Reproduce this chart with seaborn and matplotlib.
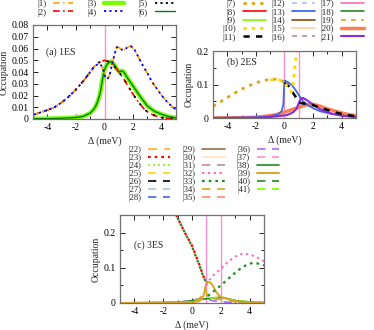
import numpy as np
import pandas as pd
import matplotlib
matplotlib.use("Agg")
import matplotlib.pyplot as plt
from matplotlib.lines import Line2D
import seaborn as sns

sns.set_theme(style="ticks")
plt.rcParams['font.family'] = ['Liberation Serif', 'DejaVu Serif']
plt.rcParams['mathtext.fontset'] = 'stix'

# ---------------- data: panel (a) 1ES ----------------
xa_14 = [-5, -4.5, -4, -3.5, -3, -2.5, -2, -1.5, -1, -0.7, -0.4, -0.25, -0.1, 0.05, 0.2, 0.35, 0.5, 0.7,
         0.85, 1.0, 1.2, 1.4, 1.6, 1.85, 2.1, 2.4, 2.7, 3.0, 3.3, 3.65, 4.0, 4.35, 4.6, 4.9, 5.0]
ya_14 = [0.0035, 0.0055, 0.0075, 0.010, 0.014, 0.019, 0.025, 0.032, 0.040, 0.045, 0.047, 0.046, 0.042, 0.036,
         0.034, 0.037, 0.045, 0.055, 0.061, 0.061, 0.059, 0.059, 0.061, 0.062, 0.059, 0.052, 0.045, 0.039,
         0.032, 0.026, 0.020, 0.015, 0.012, 0.009, 0.008]
xa_25 = [-5, -4.5, -4, -3.5, -3, -2.5, -2, -1.5, -1, -0.7, -0.4, -0.2, 0.0, 0.25, 0.5, 0.75, 1.0, 1.3, 1.6,
         2.0, 2.4, 2.8, 3.2, 3.6, 4.0, 4.5, 5.0]
ya_25 = [0.0035, 0.0055, 0.0075, 0.010, 0.014, 0.019, 0.025, 0.032, 0.040, 0.045, 0.048, 0.049, 0.050, 0.049,
         0.047, 0.044, 0.040, 0.035, 0.029, 0.021, 0.014, 0.008, 0.0045, 0.0025, 0.0012, 0.0005, 0.0002]
xa_36 = [-5, -4, -3, -2, -1.5, -1, -0.7, -0.5, -0.3, -0.15, 0.0, 0.2, 0.45, 0.7, 0.9, 1.05, 1.2, 1.35, 1.6,
         2.0, 2.5, 3.0, 3.5, 4.0, 4.5, 5.0]
ya_36 = [0.0002, 0.0003, 0.0006, 0.0013, 0.0022, 0.005, 0.009, 0.014, 0.022, 0.033, 0.042, 0.047, 0.049, 0.046,
         0.042, 0.040, 0.041, 0.040, 0.035, 0.028, 0.019, 0.011, 0.0065, 0.004, 0.002, 0.001]

# ---------------- data: panel (b) 2ES ----------------
xb_7 = [-5, -4.5, -4, -3.5, -3, -2.5, -2, -1.5, -1.1, -0.7, -0.4, -0.15, 0.0, 0.2]
yb_7 = [0.035, 0.048, 0.061, 0.074, 0.086, 0.096, 0.105, 0.111, 0.115, 0.116, 0.114, 0.110, 0.106, 0.101]
xb_10 = [-1.0, -0.6, -0.3, 0.0, 0.2, 0.35, 0.48, 0.58, 0.66, 0.74, 0.82, 0.88]
yb_10 = [0.113, 0.116, 0.113, 0.106, 0.094, 0.083, 0.078, 0.095, 0.125, 0.155, 0.185, 0.21]
xb_11 = [0.0, 0.3, 0.6, 0.9, 1.1, 1.5, 2.0, 2.5, 3.0, 3.5, 4.0, 4.5, 5.0]
yb_11 = [0.105, 0.095, 0.075, 0.055, 0.045, 0.042, 0.038, 0.031, 0.024, 0.017, 0.012, 0.008, 0.005]
xb_13 = [-5, -3, -2, -1, -0.5, -0.2, -0.08, -0.04, -0.01, 0.2, 0.5, 0.8, 1.0, 1.3, 1.6, 2.0, 2.5, 3.2, 4.0, 5.0]
yb_13 = [0.0, 0.001, 0.002, 0.005, 0.010, 0.020, 0.040, 0.080, 0.112, 0.108, 0.099, 0.082, 0.068, 0.050, 0.039,
         0.029, 0.020, 0.013, 0.007, 0.003]
xb_20 = [-5, -3, -2, -1, -0.5, 0.0, 0.5, 1.0, 1.5, 2.0, 2.5, 3.0, 3.5, 4.0, 4.5, 5.0]
yb_20 = [0.0, 0.001, 0.002, 0.007, 0.011, 0.017, 0.025, 0.032, 0.039, 0.041, 0.035, 0.027, 0.021, 0.015, 0.010, 0.007]
xb_21 = [-5, -2, -1, -0.3, 0.2, 0.6, 0.85, 1.0, 1.15, 1.3, 1.6, 2.0, 2.5, 3.0, 3.5, 4.0, 4.5, 5.0]
yb_21 = [0.0, 0.001, 0.003, 0.006, 0.009, 0.017, 0.028, 0.045, 0.058, 0.060, 0.052, 0.040, 0.026, 0.017, 0.011,
         0.007, 0.005, 0.003]

# ---------------- data: panel (c) 3ES ----------------
xc_23 = [-1.5, -1.1, -0.5, 0.0, 0.5, 0.8, 1.0]
yc_23 = [0.285, 0.25, 0.2, 0.163, 0.11, 0.075, 0.06]
xc_33a = [-1.5, -1.1, -0.5, 0.0, 0.5, 0.8, 1.0]
yc_33a = [0.285, 0.25, 0.2, 0.161, 0.108, 0.073, 0.058]
xc_33b = [1.1, 1.5, 2.0, 2.5, 3.0, 3.5, 4.0, 4.3, 4.6, 5.0]
yc_33b = [0.02, 0.033, 0.05, 0.068, 0.086, 0.102, 0.112, 0.114, 0.112, 0.107]
xc_32 = [1.0, 1.2, 1.5, 2.0, 2.5, 3.0, 3.5, 4.0, 4.5, 5.0]
yc_32 = [0.05, 0.065, 0.08, 0.097, 0.117, 0.132, 0.140, 0.138, 0.130, 0.118]
xc_39 = [-5, 0.0, 0.5, 0.8, 0.95, 1.05, 1.3, 1.5, 1.7, 1.9, 2.2, 2.6, 3.0, 3.5, 4.0, 5.0]
yc_39 = [0.0, 0.002, 0.005, 0.02, 0.05, 0.06, 0.058, 0.045, 0.03, 0.02, 0.015, 0.01, 0.006, 0.003, 0.002, 0.001]
xc_34 = [-5, 0.0, 0.5, 0.8, 0.95, 1.05, 1.5, 2.0, 3.0, 5.0]
yc_34 = [0.0, 0.003, 0.012, 0.028, 0.038, 0.02, 0.012, 0.010, 0.004, 0.001]
xc_36 = [-5, -1, 0.0, 0.5, 0.9, 1.1, 1.5, 2.5, 5.0]
yc_36 = [0.0, 0.001, 0.008, 0.012, 0.016, 0.010, 0.006, 0.002, 0.0]
xc_41 = [-5, -1, 0.0, 1.0, 1.5, 2.0, 2.5, 3.0, 4.0, 5.0]
yc_41 = [0.0, 0.001, 0.006, 0.012, 0.015, 0.018, 0.012, 0.007, 0.003, 0.001]
xc_38 = [-5, -1, 0.0, 1.0, 2.0, 2.5, 3.0, 4.0, 5.0]
yc_38 = [0.0, 0.002, 0.007, 0.012, 0.016, 0.012, 0.007, 0.003, 0.001]

vlines_a = [0.0]
vlines_b = [0.0, 1.0]
vlines_c = [1.0, 2.0]

# ---------------- styles ----------------
DOT = (0, (1.2, 1.8))
DOT_SHIFT = (1.5, (1.2, 1.8))
DASH = (0, (5, 4))
DDOT = (0, (4, 2, 1, 2))
styles = {
    1: ('#ffa500', DDOT, 1.2), 2: ('#ff0000', DDOT, 1.2), 3: ('#7cfc00', '-', 3.2), 4: ('#0000ff', DOT, 1.3),
    5: ('#000000', DOT, 1.3), 6: ('#008000', '-', 1.0),
    7: ('#daa520', DOT, 2.0), 8: ('#ff0000', '-', 1.2), 9: ('#7cfc00', '-', 1.2), 10: ('#ffd700', DOT, 2.0),
    11: ('#000000', (0, (2.5, 2.5)), 1.8), 12: ('#b0c4de', (0, (3, 3)), 1.2), 13: ('#4169e1', '-', 1.3),
    14: ('#8b4513', '-', 1.2), 15: ('#ffdab9', '-', 1.5), 16: ('#bc8f8f', (0, (3, 3)), 1.2),
    17: ('#ff69b4', '-', 1.2), 18: ('#228b22', '-', 1.2), 19: ('#daa520', (0, (3, 3)), 1.2),
    20: ('#ff7f50', '-', 2.5), 21: ('#8a2be2', '-', 1.5),
    22: ('#ffb347', DASH, 1.3), 23: ('#ff0000', DOT, 1.6), 24: ('#7cfc00', DOT, 1.2),
    25: ('#ffd700', DASH, 1.2), 26: ('#000000', DASH, 1.2), 27: ('#b0c4de', DASH, 1.2),
    28: ('#4169e1', DASH, 1.2), 29: ('#a0785a', '-', 1.3), 30: ('#ffe4c4', '-', 1.3),
    31: ('#bc8f8f', DASH, 1.2), 32: ('#ff69b4', DOT, 1.4), 33: ('#228b22', DOT, 1.6),
    34: ('#daa520', DASH, 1.2), 35: ('#ff8c69', DASH, 1.2), 36: ('#a66cff', DASH, 1.2),
    37: ('#ff8fc8', DASH, 1.2), 38: ('#228b22', '-', 1.2), 39: ('#daa520', '-', 1.4),
    40: ('#228b22', DASH, 1.2), 41: ('#7cfc00', DASH, 1.2),
}

W, H = 374, 330
fig = plt.figure(figsize=(W / 100, H / 100), dpi=100)

def ax_rect(l, t, r, b):
    return [l / W, 1 - b / H, (r - l) / W, (b - t) / H]

axa = fig.add_axes(ax_rect(33, 25, 176, 119))
axb = fig.add_axes(ax_rect(213, 51, 356, 118))
axc = fig.add_axes(ax_rect(120, 215, 264, 303))

def draw(ax, x, y, sid, z=2, ls=None):
    c, ls0, lw = styles[sid]
    sns.lineplot(x=x, y=y, ax=ax, color=c, linestyle=ls if ls is not None else ls0, linewidth=lw,
                 sort=False, estimator=None, zorder=z)

# panel a
for v in vlines_a:
    axa.axvline(v, color='#ff8fc8', lw=1.0, zorder=1)
draw(axa, xa_36, ya_36, 3)
draw(axa, xa_36, ya_36, 6)
draw(axa, xa_25, ya_25, 2)
draw(axa, xa_25, ya_25, 5, ls=(2.5, (1.2, 3.8)))
draw(axa, xa_14, ya_14, 1)
draw(axa, xa_14, ya_14, 4, ls=(2.5, (1.2, 1.8)))

# panel b
for v in vlines_b:
    axb.axvline(v, color='#ff8fc8', lw=1.0, zorder=1)
draw(axb, xb_20, yb_20, 20)
draw(axb, xb_13, yb_13, 13)
draw(axb, xb_21, yb_21, 21)
draw(axb, xb_11, yb_11, 11)
draw(axb, xb_7, yb_7, 7)
draw(axb, xb_10, yb_10, 10)

# panel c
for v in vlines_c:
    axc.axvline(v, color='#ff8fc8', lw=1.0, zorder=1)
draw(axc, xc_38, yc_38, 38)
draw(axc, xc_41, yc_41, 41)
draw(axc, xc_36, yc_36, 36)
draw(axc, xc_34, yc_34, 34)
draw(axc, xc_39, yc_39, 39)
draw(axc, xc_32, yc_32, 32)
draw(axc, xc_33b, yc_33b, 33)
draw(axc, xc_23, yc_23, 23)
draw(axc, xc_33a, yc_33a, 33, ls=DOT_SHIFT)

def style_ax(ax, ylim, ymajor, yminor, ylabfmt):
    ax.set_xlim(-5, 5)
    ax.set_ylim(*ylim)
    ax.set_xticks([-4, -2, 0, 2, 4])
    ax.set_xticks(np.arange(-5, 6, 1), minor=True)
    ax.set_yticks(ymajor)
    ax.set_yticklabels([ylabfmt(v) for v in ymajor])
    if yminor is not None:
        ax.set_yticks(yminor, minor=True)
    ax.set_xticklabels(['-4', '-2', '0', '2', '4'])
    ax.tick_params(which='both', direction='in', top=True, right=True, labelsize=7, colors='#000000',
                   pad=3, width=0.6)
    ax.tick_params(which='major', length=3.5)
    ax.tick_params(which='minor', length=2)
    for s in ax.spines.values():
        s.set_color('#707070')
        s.set_linewidth(0.9)
    ax.set_xlabel('Δ (meV)', fontsize=7, labelpad=3)
    ax.set_ylabel('Occupation', fontsize=7, labelpad=2)
    if ax.get_legend():
        ax.get_legend().remove()

style_ax(axa, (0, 0.08), np.arange(0, 0.081, 0.01), None, lambda v: '0' if v == 0 else f'{v:.2f}')
style_ax(axb, (0, 0.2), [0, 0.1, 0.2], [0.05, 0.15], lambda v: '0' if v == 0 else f'{v:.1f}')
style_ax(axc, (0, 0.25), [0, 0.1, 0.2], [0.05, 0.15, 0.25], lambda v: '0' if v == 0 else f'{v:.1f}')

axa.text(-4.1, 0.057, '(a) 1ES', fontsize=7, va='center')
axb.text(-4.0, 0.167, '(b) 2ES', fontsize=7, va='center')
axc.text(-4.0, 0.163, '(c) 3ES', fontsize=7, va='center')

def make_legend(ids, x, y, hl, cs, fs):
    handles = []
    for sid in ids:
        c, ls, lw = styles[sid]
        handles.append(Line2D([], [], color=c, linestyle=ls, linewidth=lw, label=f'|{sid})'))
    lg = fig.legend(handles=handles, ncol=3, loc='upper left', bbox_to_anchor=(x / W, 1 - y / H),
                    frameon=False, fontsize=fs, markerfirst=False, handlelength=hl, handletextpad=0.8,
                    columnspacing=cs, labelspacing=0.0, borderpad=0, borderaxespad=0)
    return lg

make_legend(range(1, 7), 37, 0, 2.2, 1.6, 6.5)
make_legend(range(7, 22), 222, 0, 2.6, 0.5, 6.5)
make_legend(range(22, 42), 128, 146, 2.6, 1.4, 6.2)

fig.savefig('out.png', dpi=100)
